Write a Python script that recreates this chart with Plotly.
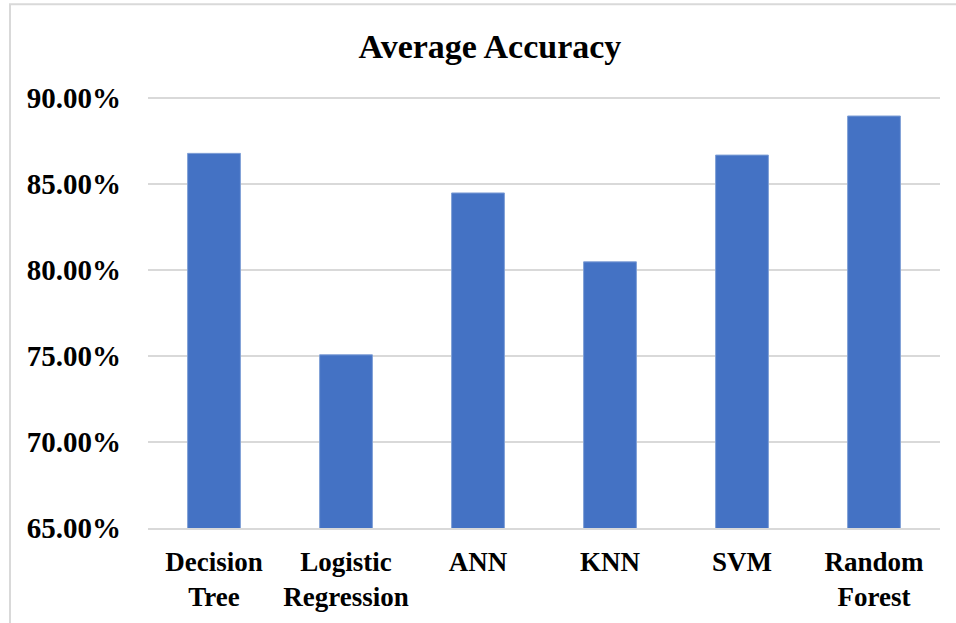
import plotly.graph_objects as go

# Average accuracy per classifier
models = ["Decision<br>Tree", "Logistic<br>Regression", "ANN", "KNN", "SVM", "Random<br>Forest"]
accuracy = [0.8676, 0.7506, 0.8446, 0.8046, 0.8666, 0.8893]
y_ticks = [0.65, 0.70, 0.75, 0.80, 0.85, 0.90]
y_range = [0.65, 0.9015]

W, H = 956, 623
L, R, B = 148, 16, 94.5
# keep 5 % per 86.2 px, leaving a sliver above the 90 % gridline so it is drawn
px_per_unit = 431 / 0.25
plot_h = px_per_unit * (y_range[1] - y_range[0])
T = H - B - plot_h
plot_w = W - L - R

font_family = "Liberation Serif, Times New Roman, serif"

fig = go.Figure(
    go.Bar(
        x=models,
        y=accuracy,
        marker=dict(color="#4472C4", line=dict(color="#7f9fd6", width=1)),
        width=0.4,
        hoverinfo="x+y",
    )
)

# Light gray outer frame of the chart area
fx0 = (10 - L) / plot_w
fy1 = (H - B - 4) / plot_h
fig.add_shape(
    type="rect", xref="paper", yref="paper",
    x0=fx0, x1=1.5, y0=-1.0, y1=fy1,
    line=dict(color="#d9d9d9", width=2), fillcolor="rgba(0,0,0,0)", layer="below",
)

fig.update_layout(
    width=W, height=H,
    margin=dict(l=L, r=R, t=T, b=B, pad=0, autoexpand=False),
    paper_bgcolor="white", plot_bgcolor="white",
    showlegend=False,
    title=dict(
        text="<b>Average Accuracy</b>",
        x=(490 - L) / plot_w, xref="paper", xanchor="center",
        y=(H - 46) / H, yref="container", yanchor="middle",
        font=dict(family=font_family, size=34, color="black"),
    ),
    font=dict(family=font_family, color="black"),
)

fig.update_xaxes(
    automargin=False,
    showgrid=False, showline=True, linecolor="#d9d9d9", linewidth=1.5,
    ticks="", tickfont=dict(family=font_family, size=27, color="black"),
    ticklabelstandoff=9,
    tickvals=models, ticktext=[f"<b>{m}</b>" for m in models],
)
fig.update_yaxes(
    automargin=False,
    range=y_range, tickvals=y_ticks,
    ticktext=[f"<b>{v * 100:.2f}%</b>" for v in y_ticks],
    showgrid=True, gridcolor="#d9d9d9", gridwidth=1.5,
    zeroline=False, showline=False, ticks="",
    tickfont=dict(family=font_family, size=29, color="black"),
    ticklabelstandoff=26,
)

fig.write_html("out.html")
